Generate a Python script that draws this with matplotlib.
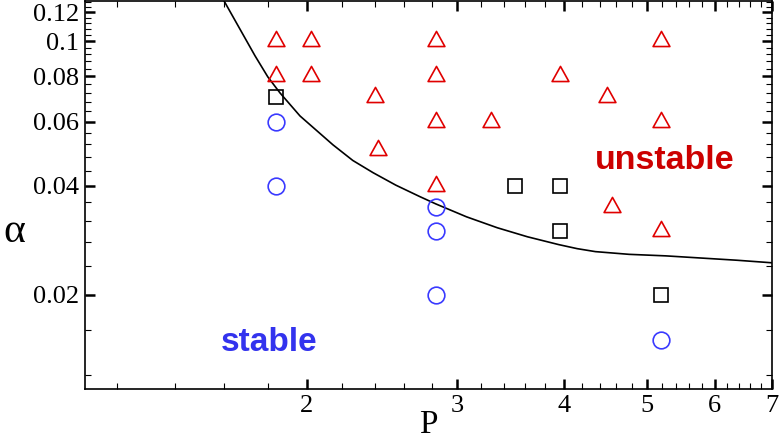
import numpy as np
import matplotlib
matplotlib.use("Agg")
import matplotlib.pyplot as plt
from matplotlib.path import Path
from matplotlib.ticker import FixedLocator, NullFormatter

# ---- data ----
tri_P = [1.84, 1.84, 2.02, 2.02, 2.40, 2.42, 2.83, 2.83, 2.83, 2.83, 3.28, 3.95, 4.49, 4.55, 5.19, 5.19, 5.19]
tri_a = [0.10, 0.08, 0.10, 0.08, 0.07, 0.05, 0.10, 0.08, 0.06, 0.04, 0.06, 0.08, 0.07, 0.035, 0.10, 0.06, 0.03]

sq_P = [1.84, 3.50, 3.95, 3.95, 5.19]
sq_a = [0.07, 0.04, 0.04, 0.03, 0.02]

circ_P = [1.84, 1.84, 2.83, 2.83, 2.83, 5.19]
circ_a = [0.06, 0.04, 0.035, 0.03, 0.02, 0.015]

curve_P = [1.60, 1.739, 1.80, 1.86, 1.963, 2.145, 2.263, 2.39, 2.541, 2.71, 2.83,
           3.074, 3.34, 3.622, 3.94, 4.142, 4.35, 4.764, 5.26, 6.37, 7.0]
curve_a = [0.129, 0.0911, 0.0797, 0.0720, 0.0622, 0.0518, 0.0469, 0.0434, 0.0401, 0.0373, 0.0356,
           0.0328, 0.0306, 0.0289, 0.0275, 0.0268, 0.0263, 0.02585, 0.0256, 0.0249, 0.0245]

x_ticks = [2, 3, 4, 5, 6, 7]
x_ticklabels = ["2", "3", "4", "5", "6", "7"]
y_ticks = [0.02, 0.04, 0.06, 0.08, 0.1, 0.12]
y_ticklabels = ["0.02", "0.04", "0.06", "0.08", "0.1", "0.12"]

# ---- figure ----
fig = plt.figure(figsize=(7.79, 4.42), dpi=100)
ax = fig.add_axes([85 / 779, 1 - 389 / 442, 687 / 779, 388 / 442])
ax.set_xscale("log")
ax.set_yscale("log")
ax.set_xlim(1.1, 7.0)
ax.set_ylim(0.011, 0.129)

# triangle marker centred on its centroid (as in the reference)
tri_path = Path([(0, 0.6), (-0.5, -0.3), (0.5, -0.3), (0, 0.6)],
                [Path.MOVETO, Path.LINETO, Path.LINETO, Path.CLOSEPOLY])

ax.plot(curve_P, curve_a, color="black", lw=1.2, zorder=2, solid_joinstyle="round")
ax.plot(tri_P, tri_a, linestyle="none", marker=tri_path, ms=14.5,
        mfc="none", mec="#e00000", mew=1.2, zorder=3)
ax.plot(sq_P, sq_a, linestyle="none", marker="s", ms=10.5,
        mfc="none", mec="black", mew=1.2, zorder=3)
ax.plot(circ_P, circ_a, linestyle="none", marker="o", ms=12,
        mfc="none", mec="#3a3aff", mew=1.2, zorder=3)

serif = "Liberation Serif"
ax.xaxis.set_major_locator(FixedLocator(x_ticks))
ax.set_xticklabels(x_ticklabels, fontfamily=serif, fontsize=19)
ax.yaxis.set_major_locator(FixedLocator(y_ticks))
ax.set_yticklabels(y_ticklabels, fontfamily=serif, fontsize=19)

xminor = [v for v in np.round(np.arange(1.2, 7.0, 0.2), 2) if abs(v - round(v)) > 1e-6]
yminor = [v for v in np.round(np.arange(0.012, 0.129, 0.004), 3)
          if not any(abs(v - t) < 1e-9 for t in y_ticks)]
ax.xaxis.set_minor_locator(FixedLocator(xminor))
ax.yaxis.set_minor_locator(FixedLocator(yminor))
ax.xaxis.set_minor_formatter(NullFormatter())
ax.yaxis.set_minor_formatter(NullFormatter())

ax.tick_params(which="both", direction="in", top=True, right=True, colors="black")
ax.tick_params(which="major", length=7, width=1.8, pad=4)
ax.tick_params(which="minor", length=4.3, width=0.8)
for s in ax.spines.values():
    s.set_linewidth(1.2)

ax.text(0.268, 0.119, "stable", transform=ax.transAxes, ha="center", va="center",
        fontfamily="Liberation Sans", fontweight="bold", fontsize=24, color="#3333ee")
ax.text(0.844, 0.590, "unstable", transform=ax.transAxes, ha="center", va="center",
        fontfamily="Liberation Sans", fontweight="bold", fontsize=24.5, color="#cc0000")

fig.text(14 / 779, 1 - 232 / 442, "α", ha="center", va="center",
         fontfamily=serif, fontsize=30)
fig.text(428 / 779, 1 - 425 / 442, "P", ha="center", va="center",
         fontfamily=serif, fontsize=24)

fig.savefig("out.png", dpi=100)
